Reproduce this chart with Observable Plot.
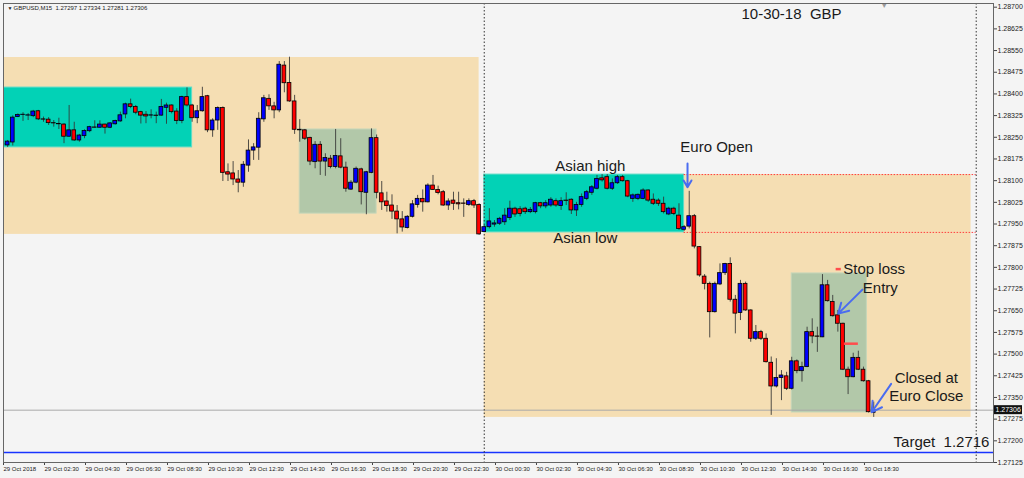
<!DOCTYPE html>
<html><head><meta charset="utf-8">
<script src="https://cdn.jsdelivr.net/npm/d3@7"></script>
<script src="https://cdn.jsdelivr.net/npm/@observablehq/plot@0.6"></script>
<style>
html,body{margin:0;padding:0;background:#f4f4f4;}
#chart{width:1024px;height:478px;overflow:hidden;}
</style></head><body><div id="chart"></div>
<script>
// ---- data ----
const symbol = "GBPUSD,M15";
const firstBar = "2018-10-29T00:30Z";   // first visible M15 bar
const barMinutes = 15;

const open = [1.28225,1.28222,1.28232,1.28320,1.28327,1.28325,1.28323,1.28340,1.28312,1.28311,
1.28299,1.28296,1.28294,1.28252,1.28274,1.28239,1.28254,1.28271,1.28284,1.28283,
1.28294,1.28283,1.28295,1.28305,1.28329,1.28364,1.28355,1.28337,1.28328,1.28325,
1.28325,1.28325,1.28352,1.28360,1.28339,1.28306,1.28389,1.28360,1.28316,1.28340,
1.28392,1.28274,1.28308,1.28351,1.28129,1.28125,1.28104,1.28093,1.28152,1.28204,
1.28214,1.28312,1.28383,1.28357,1.28343,1.28498,1.28438,1.28374,1.28276,1.28274,
1.28248,1.28164,1.28224,1.28166,1.28176,1.28147,1.28184,1.28145,1.28069,1.28093,
1.28139,1.28058,1.28127,1.28247,1.28056,1.28028,1.28014,1.27993,1.27966,1.27936,
1.27975,1.28016,1.28037,1.28025,1.28083,1.28068,1.28060,1.28014,1.28031,1.28022,
1.28021,1.28016,1.28029,1.28016,1.27922,1.27939,1.27948,1.27951,1.27956,1.27971,
1.28003,1.28001,1.28003,1.27991,1.27991,1.28022,1.28011,1.28014,1.28029,1.28012,
1.28031,1.28034,1.27997,1.28016,1.28037,1.28058,1.28072,1.28108,1.28112,1.28072,
1.28091,1.28112,1.28098,1.28037,1.28037,1.28037,1.28066,1.28034,1.28031,1.28020,
1.27983,1.28003,1.27979,1.27930,1.27941,1.27977,1.27870,1.27768,1.27743,1.27645,
1.27741,1.27780,1.27812,1.27688,1.27642,1.27743,1.27651,1.27553,1.27576,1.27553,
1.27470,1.27388,1.27417,1.27423,1.27380,1.27475,1.27441,1.27455,1.27576,1.27561,
1.27558,1.27738,1.27680,1.27634,1.27605,1.27446,1.27420,1.27487,1.27446,1.27406,
1.27297];
const high = [1.28232,1.28239,1.28324,1.28331,1.28335,1.28332,1.28343,1.28343,1.28320,1.28318,
1.28308,1.28316,1.28297,1.28360,1.28302,1.28260,1.28276,1.28288,1.28307,1.28307,
1.28295,1.28301,1.28309,1.28337,1.28368,1.28382,1.28360,1.28340,1.28339,1.28345,
1.28337,1.28381,1.28368,1.28362,1.28349,1.28392,1.28421,1.28364,1.28360,1.28423,
1.28395,1.28314,1.28355,1.28355,1.28158,1.28166,1.28135,1.28166,1.28241,1.28228,
1.28335,1.28395,1.28397,1.28371,1.28512,1.28512,1.28527,1.28395,1.28311,1.28277,
1.28250,1.28235,1.28235,1.28193,1.28187,1.28277,1.28245,1.28164,1.28100,1.28147,
1.28143,1.28132,1.28279,1.28258,1.28097,1.28060,1.28051,1.28014,1.27993,1.27979,
1.28031,1.28049,1.28068,1.28089,1.28118,1.28081,1.28066,1.28037,1.28060,1.28060,
1.28037,1.28037,1.28035,1.28020,1.27945,1.28003,1.27962,1.27973,1.28003,1.28029,
1.28008,1.28010,1.28008,1.28007,1.28025,1.28025,1.28031,1.28041,1.28037,1.28041,
1.28058,1.28037,1.28025,1.28054,1.28066,1.28083,1.28118,1.28121,1.28121,1.28106,
1.28118,1.28118,1.28101,1.28054,1.28054,1.28072,1.28068,1.28054,1.28037,1.28043,
1.28008,1.28008,1.28020,1.27945,1.28063,1.27983,1.27872,1.27775,1.27749,1.27749,
1.27812,1.27814,1.27833,1.27703,1.27755,1.27749,1.27653,1.27599,1.27582,1.27570,
1.27490,1.27484,1.27443,1.27437,1.27489,1.27480,1.27472,1.27593,1.27622,1.27593,
1.27775,1.27755,1.27703,1.27651,1.27607,1.27455,1.27503,1.27510,1.27455,1.27409,
1.27334];
const low = [1.28218,1.28215,1.28220,1.28318,1.28305,1.28308,1.28318,1.28308,1.28302,1.28291,
1.28285,1.28277,1.28228,1.28250,1.28236,1.28233,1.28245,1.28266,1.28282,1.28282,
1.28261,1.28280,1.28292,1.28302,1.28314,1.28349,1.28328,1.28296,1.28297,1.28314,
1.28297,1.28323,1.28295,1.28331,1.28294,1.28297,1.28355,1.28302,1.28297,1.28337,
1.28266,1.28250,1.28274,1.28097,1.28097,1.28083,1.28058,1.28077,1.28129,1.28170,
1.28170,1.28302,1.28343,1.28314,1.28335,1.28404,1.28371,1.28260,1.28233,1.28239,
1.28152,1.28141,1.28118,1.28115,1.28141,1.28141,1.28141,1.28060,1.28066,1.28089,
1.28016,1.27982,1.28124,1.28037,1.27997,1.27991,1.27966,1.27916,1.27922,1.27933,
1.27971,1.28005,1.27991,1.28023,1.28066,1.28051,1.28011,1.27997,1.27997,1.27999,
1.27973,1.28011,1.28004,1.27911,1.27921,1.27933,1.27939,1.27945,1.27945,1.27962,
1.27973,1.27975,1.27983,1.27986,1.27985,1.28003,1.28003,1.28008,1.28008,1.27997,
1.28014,1.27983,1.27976,1.28008,1.28031,1.28049,1.28068,1.28095,1.28068,1.28066,
1.28087,1.28095,1.28041,1.28025,1.28031,1.28034,1.28025,1.28014,1.28011,1.27985,
1.27979,1.27979,1.27928,1.27924,1.27933,1.27864,1.27766,1.27722,1.27556,1.27642,
1.27737,1.27772,1.27680,1.27570,1.27616,1.27648,1.27541,1.27547,1.27547,1.27469,
1.27288,1.27383,1.27339,1.27374,1.27376,1.27432,1.27403,1.27453,1.27536,1.27506,
1.27557,1.27680,1.27628,1.27576,1.27443,1.27360,1.27418,1.27443,1.27403,1.27296,
1.27281];
const close = [1.28226,1.28235,1.28318,1.28327,1.28328,1.28326,1.28339,1.28312,1.28311,1.28299,
1.28298,1.28295,1.28252,1.28274,1.28239,1.28256,1.28272,1.28285,1.28283,1.28294,
1.28283,1.28298,1.28306,1.28326,1.28364,1.28355,1.28335,1.28325,1.28322,1.28326,
1.28324,1.28355,1.28360,1.28337,1.28306,1.28389,1.28360,1.28316,1.28340,1.28389,
1.28274,1.28308,1.28351,1.28127,1.28121,1.28104,1.28093,1.28155,1.28204,1.28215,
1.28314,1.28385,1.28357,1.28343,1.28501,1.28437,1.28374,1.28276,1.28274,1.28245,
1.28166,1.28224,1.28166,1.28178,1.28147,1.28185,1.28145,1.28072,1.28093,1.28141,
1.28060,1.28129,1.28247,1.28058,1.28025,1.28012,1.27993,1.27966,1.27938,1.27975,
1.28018,1.28037,1.28025,1.28083,1.28068,1.28057,1.28014,1.28028,1.28020,1.28018,
1.28020,1.28029,1.28014,1.27914,1.27939,1.27959,1.27952,1.27968,1.27979,1.28003,
1.27983,1.27985,1.27991,1.27999,1.28022,1.28011,1.28022,1.28034,1.28014,1.28029,
1.28030,1.27997,1.28016,1.28043,1.28060,1.28077,1.28106,1.28101,1.28072,1.28091,
1.28112,1.28098,1.28045,1.28049,1.28051,1.28066,1.28031,1.28020,1.28020,1.27991,
1.28003,1.27985,1.27933,1.27939,1.27977,1.27872,1.27772,1.27743,1.27645,1.27743,
1.27780,1.27812,1.27688,1.27640,1.27743,1.27651,1.27553,1.27576,1.27553,1.27472,
1.27388,1.27417,1.27426,1.27380,1.27475,1.27441,1.27455,1.27576,1.27561,1.27560,
1.27738,1.27683,1.27631,1.27605,1.27446,1.27420,1.27487,1.27446,1.27406,1.27299,
1.27306];

const yTicks = [1.28700,1.28625,1.28550,1.28475,1.28400,1.28325,1.28250,1.28175,1.28100,1.28025,
1.27950,1.27875,1.27800,1.27725,1.27650,1.27575,1.27500,1.27425,1.27350,1.27275,1.27200,1.27125];
const xTickTimes = ["2018-10-29T00:30Z","2018-10-29T02:30Z","2018-10-29T04:30Z","2018-10-29T06:30Z",
"2018-10-29T08:30Z","2018-10-29T10:30Z","2018-10-29T12:30Z","2018-10-29T14:30Z","2018-10-29T16:30Z",
"2018-10-29T18:30Z","2018-10-29T20:30Z","2018-10-29T22:30Z","2018-10-30T00:30Z","2018-10-30T02:30Z",
"2018-10-30T04:30Z","2018-10-30T06:30Z","2018-10-30T08:30Z","2018-10-30T10:30Z","2018-10-30T12:30Z",
"2018-10-30T14:30Z","2018-10-30T16:30Z","2018-10-30T18:30Z"];
const xTickLabels = ["29 Oct 2018","29 Oct 02:30","29 Oct 04:30","29 Oct 06:30","29 Oct 08:30",
"29 Oct 10:30","29 Oct 12:30","29 Oct 14:30","29 Oct 16:30","29 Oct 18:30","29 Oct 20:30",
"29 Oct 22:30","30 Oct 00:30","30 Oct 02:30","30 Oct 04:30","30 Oct 06:30","30 Oct 08:30",
"30 Oct 10:30","30 Oct 12:30","30 Oct 14:30","30 Oct 16:30","30 Oct 18:30"];

const dayRanges = [
  {from:"2018-10-29T00:00Z", to:"2018-10-29T23:45Z", high:1.28526, low:1.27914},
  {from:"2018-10-30T00:00Z", to:"2018-10-30T23:45Z", high:1.28121, low:1.27281}];
const asianRanges = [
  {from:"2018-10-29T00:00Z", to:"2018-10-29T09:45Z", high:1.28422, low:1.28215},
  {from:"2018-10-30T00:00Z", to:"2018-10-30T09:45Z", high:1.28121, low:1.27921}];
const tradeWindows = [
  {from:"2018-10-29T15:00Z", to:"2018-10-29T18:45Z", high:1.28277, low:1.27986},
  {from:"2018-10-30T15:00Z", to:"2018-10-30T18:40Z", high:1.27779, low:1.27298}];
const asianLevels = [
  {from:"2018-10-30T09:45Z", to:"2018-10-31T00:00Z", price:1.28121},
  {from:"2018-10-30T09:45Z", to:"2018-10-31T00:00Z", price:1.27921}];
const daySeparators = ["2018-10-30T00:00Z","2018-10-31T00:00Z"];
const targetPrice = 1.2716;
const levelMarks = [
  {from:"2018-10-30T17:10Z", to:"2018-10-30T17:25Z", price:1.27794},
  {from:"2018-10-30T17:34Z", to:"2018-10-30T18:15Z", price:1.27536}];
const arrows = [
  {from:"2018-10-30T09:55Z", fromPrice:1.28159, to:"2018-10-30T09:55Z", toPrice:1.28077},
  {from:"2018-10-30T18:27Z", fromPrice:1.27723, to:"2018-10-30T17:16Z", toPrice:1.27640},
  {from:"2018-10-30T19:51Z", fromPrice:1.27397, to:"2018-10-30T18:54Z", toPrice:1.27299}];
const leftNotes = [
  {text:"10-30-18\u00a0\u00a0GBP", time:"2018-10-30T12:33Z", price:1.28675},
  {text:"Asian high", time:"2018-10-30T03:28Z", price:1.28149},
  {text:"Asian low", time:"2018-10-30T03:22Z", price:1.27900},
  {text:"Euro Open", time:"2018-10-30T09:34Z", price:1.28216},
  {text:"Stop loss", time:"2018-10-30T17:31Z", price:1.27794},
  {text:"Entry", time:"2018-10-30T18:28Z", price:1.27728},
  {text:"Target\u00a0\u00a01.2716", time:"2018-10-30T19:58Z", price:1.27194}];
const centredNotes = [
  {text:"Closed at", time:"2018-10-30T21:34Z", price:1.27417},
  {text:"Euro Close", time:"2018-10-30T21:34Z", price:1.27355}];
const chartShiftTime = "2018-10-30T19:31Z";
const xDomain = ["2018-10-29T00:32:55Z","2018-10-31T00:50:35Z"];
const yDomain = [1.27125, 1.287128];

// ---- build ----
const t0 = new Date(firstBar).getTime();
const barMs = barMinutes * 60000;
const candles = open.map((o, i) => ({t: new Date(t0 + i*barMs), o, h: high[i], l: low[i], c: close[i]}));
const last = candles[candles.length - 1];
const currentPrice = last.c;
const f5 = v => v.toFixed(5);
const header = `${symbol}\u00a0\u00a0${f5(last.o)} ${f5(last.h)} ${f5(last.l)} ${f5(last.c)}`;
const D = s => new Date(s);
const labelByTime = new Map(xTickTimes.map((s, i) => [D(s).getTime(), xTickLabels[i]]));
const font = "'Liberation Sans', Arial, sans-serif";
const half = 5.5 * 60000;

const chart = Plot.plot({
  width: 1024, height: 478,
  marginTop: 3, marginBottom: 16, marginLeft: 3, marginRight: 31,
  x: {type: "utc", domain: xDomain.map(D)},
  y: {domain: yDomain},
  style: {background: "#f4f4f4", fontFamily: font, color: "#111"},
  marks: [
    Plot.rect(dayRanges, {x1: d => D(d.from), x2: d => D(d.to), y1: "low", y2: "high", fill: "#f5deb3", clip: true}),
    Plot.rect(asianRanges, {x1: d => D(d.from), x2: d => D(d.to), y1: "low", y2: "high", fill: "#02d2b6", stroke: "#5fdcc8", strokeWidth: 1, clip: true}),
    Plot.rect(tradeWindows, {x1: d => D(d.from), x2: d => D(d.to), y1: "low", y2: "high", fill: "#b2c8a9", stroke: "#c6d6ba", strokeWidth: 1}),
    Plot.ruleY([currentPrice], {stroke: "#a9a9a9", strokeWidth: 1}),
    Plot.ruleY([targetPrice], {stroke: "#1733ff", strokeWidth: 1.5}),
    Plot.ruleY(asianLevels, {y: "price", x1: d => D(d.from), x2: d => D(d.to), stroke: "#ff3b3b", strokeWidth: 1, strokeDasharray: "1.5,1.5"}),
    Plot.ruleX(daySeparators.map(D), {stroke: "#333", strokeWidth: 1, strokeDasharray: "1.5,2"}),
    Plot.ruleX(candles, {x: "t", y1: "l", y2: "h", stroke: "#333", strokeOpacity: 0.85, strokeWidth: 1, clip: true}),
    Plot.rect(candles, {x1: d => new Date(+d.t - half), x2: d => new Date(+d.t + half), y1: "o", y2: "c",
      fill: d => d.c >= d.o ? "#0000ff" : "#ff0000", stroke: "#000", strokeWidth: 0.8, clip: true}),
    Plot.ruleY(levelMarks, {y: "price", x1: d => D(d.from), x2: d => D(d.to), stroke: "#ff4d4d", strokeWidth: 2.5}),
    Plot.arrow(arrows, {x1: d => D(d.from), y1: "fromPrice", x2: d => D(d.to), y2: "toPrice", stroke: "#4a6cf0", strokeWidth: 2, headLength: 9}),
    Plot.text(leftNotes, {x: d => D(d.time), y: "price", text: "text", textAnchor: "start", fontSize: 15, fill: "#1a1a1a", fontFamily: font}),
    Plot.text(centredNotes, {x: d => D(d.time), y: "price", text: "text", textAnchor: "middle", fontSize: 15, fill: "#1a1a1a", fontFamily: font}),
    Plot.text(["\u25BC"], {frameAnchor: "top-left", dx: 4, dy: 5, lineAnchor: "middle", fontSize: 5, fill: "#222"}),
    Plot.text([header], {frameAnchor: "top-left", dx: 10, dy: 5, lineAnchor: "middle", textAnchor: "start", fontSize: 6, fill: "#222"}),
    Plot.text(["\u25BC"], {x: D(chartShiftTime), frameAnchor: "top", dy: 2, lineAnchor: "middle", fontSize: 7, fill: "#9a9a9a"}),
    Plot.axisX(xTickTimes.map(D), {anchor: "bottom", tickSize: 3, tickPadding: 1, fontSize: 6, textAnchor: "start", dx: 1,
      tickFormat: d => labelByTime.get(+d), label: null, stroke: "#444", fill: "#222"}),
    Plot.axisY(yTicks, {anchor: "right", tickSize: 3, tickPadding: 1, fontSize: 7, tickFormat: f5, label: null, stroke: "#444", fill: "#222"}),
    Plot.frame({stroke: "#666", strokeWidth: 1}),
    Plot.text([currentPrice], {y: d => d, frameAnchor: "right", textAnchor: "start", dx: 2, fontSize: 7, fill: "#fff", text: f5,
      render(index, scales, values, dimensions, context, next) {
        const g = next(index, scales, values, dimensions, context);
        const ns = "http://www.w3.org/2000/svg";
        const wrap = document.createElementNS(ns, "g");
        const y = values.y[index[0]];
        const r = document.createElementNS(ns, "rect");
        r.setAttribute("x", dimensions.width - dimensions.marginRight + 1);
        r.setAttribute("y", y - 4.5);
        r.setAttribute("width", 28);
        r.setAttribute("height", 9);
        r.setAttribute("fill", "#111");
        wrap.appendChild(r);
        wrap.appendChild(g);
        return wrap;
      }})
  ]
});
document.getElementById("chart").appendChild(chart);
</script>
</body></html>
